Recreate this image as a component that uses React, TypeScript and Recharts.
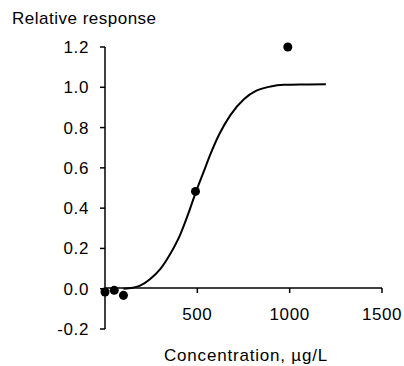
import React from "react";
import { ComposedChart, LineChart, Line, Scatter, XAxis, YAxis } from "recharts";

// measured points
const measuredConc = [0, 50, 100, 490, 990];
const measuredResp = [-0.016, -0.008, -0.033, 0.483, 1.2];

// fitted curve
const curveConc = [100, 150, 190, 245, 300, 353, 408, 450, 490, 534, 571, 616, 679, 752, 820, 897, 969, 1078, 1196];
const curveResp = [0.0, 0.005, 0.015, 0.048, 0.098, 0.172, 0.27, 0.37, 0.475, 0.58, 0.668, 0.762, 0.862, 0.941, 0.983, 1.004, 1.012, 1.014, 1.015];

const yTicks = [-0.2, 0, 0.2, 0.4, 0.6, 0.8, 1.0, 1.2];
const xTicks = [500, 1000, 1500];

const points = measuredConc.map((x, i) => ({ x, y: measuredResp[i] }));
const curve = curveConc.map((x, i) => ({ x, y: curveResp[i] }));

const W = 404;
const H = 366;
const FONT = "'Liberation Sans', Arial, sans-serif";
const tickStyle = { fill: "#000", fontSize: 17, fontFamily: FONT, letterSpacing: 0.6 };

export default function App() {
  return (
    <div style={{ position: "absolute", left: 0, top: 0, width: W, height: H, background: "#fff" }}>
      <div
        style={{
          position: "absolute",
          left: 12,
          top: 9,
          fontFamily: FONT,
          fontSize: 17,
          letterSpacing: 0.5,
          color: "#000",
          whiteSpace: "nowrap",
        }}
      >
        Relative response
      </div>
      <div
        style={{
          position: "absolute",
          left: 146,
          width: 200,
          top: 346,
          textAlign: "center",
          fontFamily: FONT,
          fontSize: 17,
          letterSpacing: 0.8,
          color: "#000",
          whiteSpace: "nowrap",
        }}
      >
        Concentration, µg/L
      </div>

      <div style={{ position: "absolute", left: 0, top: 0 }}>
        <ComposedChart width={W} height={H} margin={{ top: 47, right: 22, bottom: 37, left: 50 }}>
          <XAxis type="number" dataKey="x" domain={[0, 1500]} hide height={0} />
          <YAxis
            type="number"
            domain={[-0.2, 1.2]}
            ticks={yTicks}
            width={55}
            tickSize={5}
            tickMargin={11}
            tickFormatter={(v: number) => v.toFixed(1)}
            tick={tickStyle}
            stroke="#000"
            strokeWidth={1.5}
          />
          <Line
            data={curve}
            dataKey="y"
            type="monotone"
            stroke="#000"
            strokeWidth={2}
            dot={false}
            isAnimationActive={false}
          />
          <Scatter data={points} dataKey="y" fill="#000" shape="circle" isAnimationActive={false} />
        </ComposedChart>
      </div>

      <div style={{ position: "absolute", left: 0, top: 0 }}>
        <LineChart width={W} height={H} data={curve} margin={{ top: 47, right: 22, bottom: 48, left: 105 }}>
          <YAxis hide width={0} domain={[-0.2, 1.2]} />
          <XAxis
            type="number"
            dataKey="x"
            domain={[0, 1500]}
            ticks={xTicks}
            height={30}
            tickSize={5}
            tickMargin={15}
            tick={tickStyle}
            stroke="#000"
            strokeWidth={1.5}
          />
        </LineChart>
      </div>
    </div>
  );
}
